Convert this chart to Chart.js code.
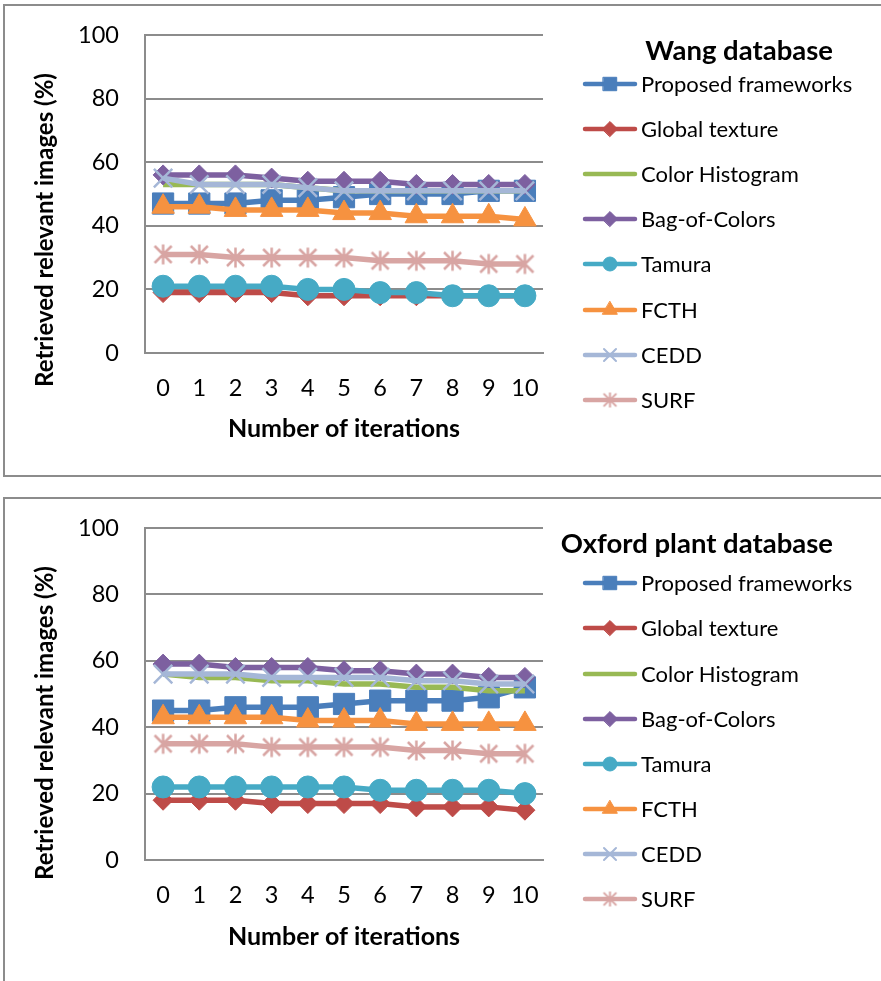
<!DOCTYPE html>
<html>
<head>
<meta charset="utf-8">
<title>Retrieved relevant images per iteration</title>
<script src="https://cdn.jsdelivr.net/npm/chart.js@4.4.1/dist/chart.umd.min.js"></script>
<style>
  body { margin: 0; background: #fff; width: 881px; height: 981px; position: relative; overflow: hidden;
         font-family: Lato, "Liberation Sans", sans-serif; color: #000; }
  .frame { position: absolute; left: 3px; border: 2px solid #8c8c8c; border-right: none; }
  #frameWang { top: 4px; width: 880px; height: 469px; }
  #frameOxford { top: 497px; width: 880px; height: 500px; border-bottom: none; }
  canvas.plot { position: absolute; left: 0; }
  #wangChart { top: 0; }
  #oxfordChart { top: 490px; }
  .heading { position: absolute; right: 48px; font-weight: bold; font-size: 27.5px; line-height: 34px; white-space: nowrap; }
  .key-row { position: absolute; left: 581px; height: 30px; width: 290px; }
  .key-row canvas { position: absolute; left: 0; top: 3px; }
  .key-row span { position: absolute; left: 60px; top: 0; font-size: 22px; line-height: 30px; white-space: nowrap; }
</style>
</head>
<body>
<div class="frame" id="frameWang"></div>
<div class="frame" id="frameOxford"></div>
<canvas class="plot" id="wangChart" width="881" height="490"></canvas>
<canvas class="plot" id="oxfordChart" width="881" height="491"></canvas>
<div class="heading" style="top: 33px;">Wang database</div>
<div id="wangLegend"></div>
<div class="heading" style="top: 526px;">Oxford plant database</div>
<div id="oxfordLegend"></div>
<script>
const iterations = ['0', '1', '2', '3', '4', '5', '6', '7', '8', '9', '10'];
const yTicks = [0, 20, 40, 60, 80, 100];
const seriesNames = ['Proposed frameworks', 'Global texture', 'Color Histogram', 'Bag-of-Colors', 'Tamura', 'FCTH', 'CEDD', 'SURF'];
const seriesColors = ['#4A7EBB', '#BE4B48', '#98B954', '#7D60A0', '#46AAC5', '#F69240', '#A5B7D7', '#D8A5A3'];

// Wang database
const wangProposed = [47, 47, 47, 48, 48, 49, 50, 50, 50, 51, 51];
const wangGlobalTexture = [19, 19, 19, 19, 18, 18, 18, 18, 18, 18, 18];
const wangColorHistogram = [53, 53, 53, 53, 52, 51, 51, 51, 51, 51, 51];
const wangBagOfColors = [56, 56, 56, 55, 54, 54, 54, 53, 53, 53, 53];
const wangTamura = [21, 21, 21, 21, 20, 20, 19, 19, 18, 18, 18];
const wangFcth = [46, 46, 45, 45, 45, 44, 44, 43, 43, 43, 42];
const wangCedd = [55, 53, 53, 53, 52, 51, 51, 51, 51, 51, 51];
const wangSurf = [31, 31, 30, 30, 30, 30, 29, 29, 29, 28, 28];

// Oxford plant database
const oxfordProposed = [45, 45, 46, 46, 46, 47, 48, 48, 48, 49, 52];
const oxfordGlobalTexture = [18, 18, 18, 17, 17, 17, 17, 16, 16, 16, 15];
const oxfordColorHistogram = [56, 55, 55, 54, 54, 53, 53, 52, 52, 51, 51];
const oxfordBagOfColors = [59, 59, 58, 58, 58, 57, 57, 56, 56, 55, 55];
const oxfordTamura = [22, 22, 22, 22, 22, 22, 21, 21, 21, 21, 20];
const oxfordFcth = [43, 43, 43, 43, 42, 42, 42, 41, 41, 41, 41];
const oxfordCedd = [56, 56, 56, 55, 55, 55, 55, 54, 54, 53, 53];
const oxfordSurf = [35, 35, 35, 34, 34, 34, 34, 33, 33, 32, 32];

const FONT = 'Lato, "Liberation Sans", sans-serif';

// asterisk marker (X plus a vertical bar), chart.js has no 6-ray star
function makeAsterisk(color, half, width) {
    let c = document.createElement('canvas');
    let s = Math.ceil(half * 2 + width * 2);
    c.width = s; c.height = s;
    let ctx = c.getContext('2d');
    let m = s / 2, d = half * 0.85;
    ctx.strokeStyle = color;
    ctx.lineWidth = width;
    ctx.beginPath();
    ctx.moveTo(m - d, m - d); ctx.lineTo(m + d, m + d);
    ctx.moveTo(m + d, m - d); ctx.lineTo(m - d, m + d);
    ctx.moveTo(m, m - half); ctx.lineTo(m, m + half);
    ctx.stroke();
    return c;
}

// marker settings for the plotted points
const markers = [
    { style: 'rect', radius: 15, border: 1 },
    { style: 'rectRot', radius: 10, border: 1 },
    { style: 'line', radius: 0, border: 0 },
    { style: 'rectRot', radius: 10, border: 1 },
    { style: 'circle', radius: 11, border: 1 },
    { style: 'triangle', radius: 13, border: 1 },
    { style: 'crossRot', radius: 13, border: 2.5 },
    { style: 'asterisk', radius: 10, border: 2.5 }
];
// smaller markers for the legend keys
const keyMarkers = [
    { style: 'rect', radius: 9.5, border: 1 },
    { style: 'rectRot', radius: 7.5, border: 1 },
    { style: 'line', radius: 0, border: 0 },
    { style: 'rectRot', radius: 7.5, border: 1 },
    { style: 'circle', radius: 7, border: 1 },
    { style: 'triangle', radius: 8.5, border: 1 },
    { style: 'crossRot', radius: 8.5, border: 2 },
    { style: 'asterisk', radius: 7.5, border: 2 }
];

function pointStyleFor(m, color) {
    if (m.style === 'asterisk') return makeAsterisk(color, m.radius, m.border);
    return m.style;
}

// legend key: short line with the marker on it
function makeKey(i) {
    let c = document.createElement('canvas');
    c.width = 58; c.height = 24;
    let ctx = c.getContext('2d');
    let color = seriesColors[i];
    ctx.strokeStyle = color;
    ctx.fillStyle = color;
    ctx.lineWidth = 4.5;
    ctx.lineCap = 'round';
    ctx.beginPath();
    ctx.moveTo(4, 12); ctx.lineTo(54, 12);
    ctx.stroke();
    let m = keyMarkers[i];
    if (m.style === 'asterisk') {
        let a = makeAsterisk(color, m.radius, m.border);
        ctx.drawImage(a, 29 - a.width / 2, 12 - a.height / 2);
    } else if (m.style !== 'line') {
        ctx.lineWidth = m.border;
        Chart.helpers.drawPoint(ctx, { pointStyle: m.style, radius: m.radius, borderWidth: m.border, rotation: 0 }, 29, 12);
    }
    return c;
}

function buildLegend(holderId, firstRowTop) {
    let holder = document.getElementById(holderId);
    seriesNames.forEach(function (name, i) {
        let row = document.createElement('div');
        row.className = 'key-row';
        row.style.top = (firstRowTop + i * 45.1) + 'px';
        row.appendChild(makeKey(i));
        let label = document.createElement('span');
        label.textContent = name;
        row.appendChild(label);
        holder.appendChild(row);
    });
}

const yTitlePlugin = {
    id: 'yTitle',
    afterDraw(chart, args, opts) {
        let ctx = chart.ctx;
        ctx.save();
        ctx.translate(opts.x, opts.y);
        ctx.rotate(-Math.PI / 2);
        ctx.font = 'bold 24px ' + FONT;
        ctx.fillStyle = '#000';
        ctx.textAlign = 'center';
        ctx.textBaseline = 'middle';
        ctx.fillText(opts.text, 0, 0);
        ctx.restore();
    }
};

function buildChart(canvasId, seriesData, lay) {
    let datasets = seriesData.map(function (values, i) {
        let m = markers[i];
        return {
            label: seriesNames[i],
            data: values,
            borderColor: seriesColors[i],
            backgroundColor: seriesColors[i],
            borderWidth: 5.5,
            pointStyle: pointStyleFor(m, seriesColors[i]),
            pointRadius: m.radius > 0 ? m.radius : 0,
            pointBorderWidth: m.border,
            pointBackgroundColor: seriesColors[i],
            pointBorderColor: seriesColors[i],
            tension: 0,
            order: seriesData.length - i
        };
    });

    return new Chart(document.getElementById(canvasId), {
        type: 'line',
        data: { labels: iterations, datasets: datasets },
        plugins: [yTitlePlugin],
        options: {
            responsive: false,
            animation: false,
            devicePixelRatio: 1,
            layout: { padding: { left: 0, top: lay.top, right: 338, bottom: lay.bottom } },
            scales: {
                x: {
                    offset: true,
                    grid: { display: false, drawTicks: false },
                    border: { display: true, color: '#8c8c8c', width: 2 },
                    ticks: { color: '#000', padding: 21, font: { family: FONT, size: 23.5 } },
                    title: {
                        display: true, text: 'Number of iterations', color: '#000',
                        padding: 0, font: { family: FONT, size: 25, weight: 'bold' }
                    },
                    afterFit: function (scale) { scale.height = lay.xHeight; }
                },
                y: {
                    min: 0,
                    max: 100,
                    grid: { color: '#8c8c8c', lineWidth: 2, drawTicks: false },
                    border: { display: true, color: '#8c8c8c', width: 2 },
                    ticks: {
                        color: '#000', padding: 26, stepSize: 20,
                        font: { family: FONT, size: 23.5 },
                        callback: function (v) { return yTicks.includes(v) ? v : null; }
                    },
                    afterFit: function (scale) {
                        scale.width = 145;
                        scale.paddingTop = 0;
                        scale.paddingBottom = 0;
                    }
                }
            },
            plugins: {
                tooltip: { enabled: false },
                legend: { display: false },
                yTitle: { text: 'Retrieved relevant images (%)', x: 45, y: lay.yTitleY }
            }
        }
    });
}

buildChart('wangChart',
    [wangProposed, wangGlobalTexture, wangColorHistogram, wangBagOfColors, wangTamura, wangFcth, wangCedd, wangSurf],
    { top: 35, bottom: 46, xHeight: 91, yTitleY: 230 });
buildLegend('wangLegend', 69);

buildChart('oxfordChart',
    [oxfordProposed, oxfordGlobalTexture, oxfordColorHistogram, oxfordBagOfColors, oxfordTamura, oxfordFcth, oxfordCedd, oxfordSurf],
    { top: 38, bottom: 29, xHeight: 92, yTitleY: 233 });
buildLegend('oxfordLegend', 568.3);
</script>
</body>
</html>
